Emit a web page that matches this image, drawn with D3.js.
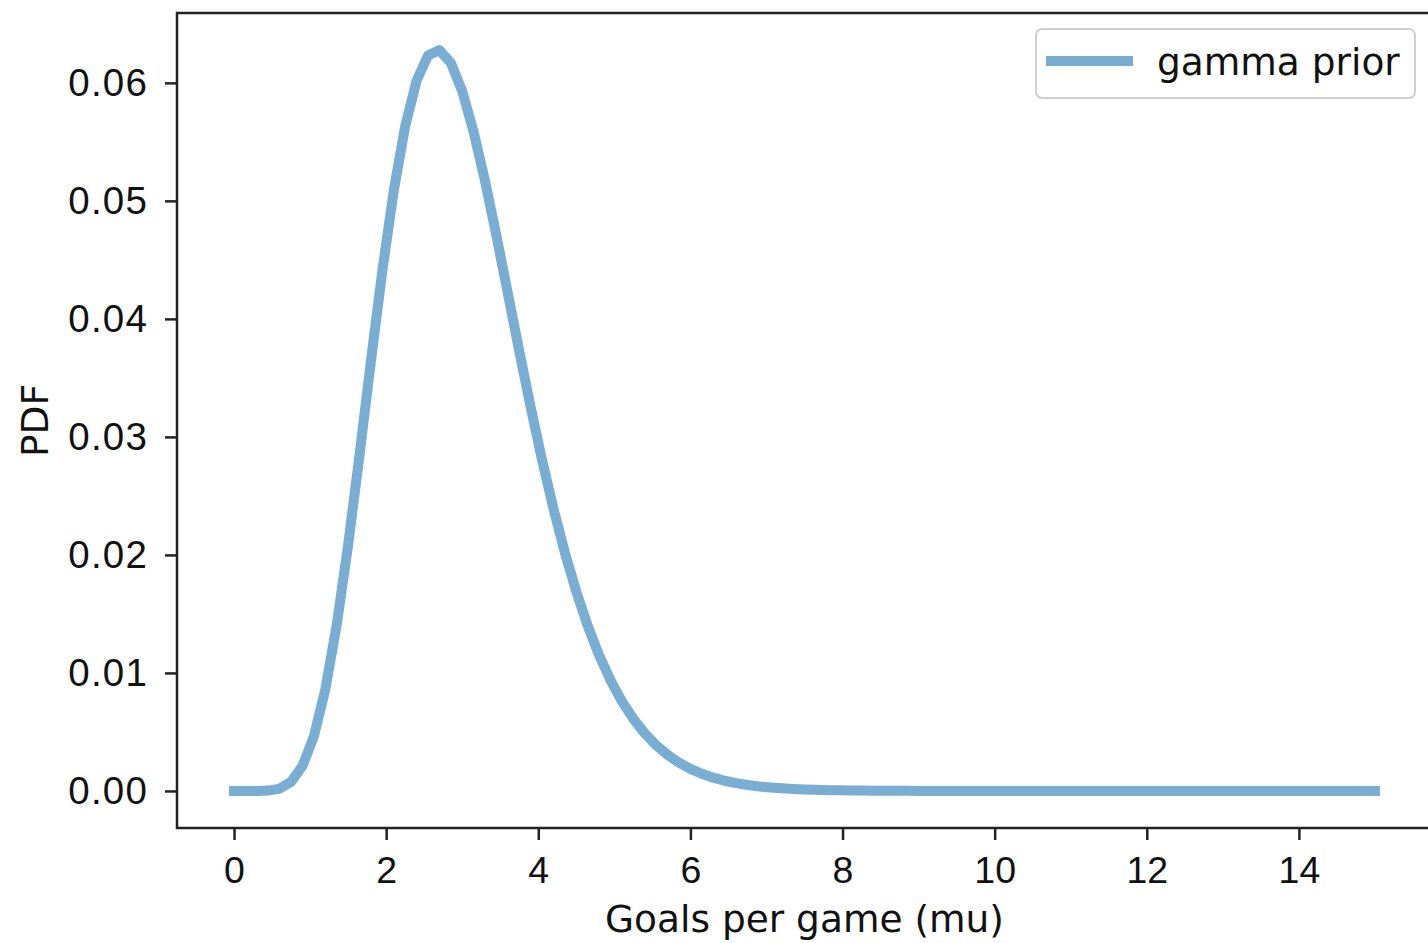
<!DOCTYPE html>
<html lang="en">
<head>
    <meta charset="UTF-8">
    <title>Gamma prior</title>
    <script src="https://d3js.org/d3.v7.min.js"></script>
    <style>
        body {
            margin: 0;
            background: #fff;
            font-family: "DejaVu Sans", sans-serif;
        }
        .axis text {
            font-size: 37.5px;
            fill: #111;
        }
        .y-axis text {
            font-size: 38.5px;
            letter-spacing: 1.2px;
        }
    </style>
</head>
<body>
    <svg width="1428" height="943"></svg>

    <script>
        // Goals per game (mu) sample points
        const mus = [
            0, 0.15, 0.3, 0.45, 0.6, 0.75, 0.9, 1.05, 1.2, 1.35,
            1.5, 1.65, 1.8, 1.95, 2.1, 2.25, 2.4, 2.55, 2.7, 2.85,
            3, 3.15, 3.3, 3.45, 3.6, 3.75, 3.9, 4.05, 4.2, 4.35,
            4.5, 4.65, 4.8, 4.95, 5.1, 5.25, 5.4, 5.55, 5.7, 5.85,
            6, 6.15, 6.3, 6.45, 6.6, 6.75, 6.9, 7.05, 7.2, 7.35,
            7.5, 7.65, 7.8, 7.95, 8.1, 8.25, 8.4, 8.55, 8.7, 8.85,
            9, 9.15, 9.3, 9.45, 9.6, 9.75, 9.9, 10.05, 10.2, 10.35,
            10.5, 10.65, 10.8, 10.95, 11.1, 11.25, 11.4, 11.55, 11.7, 11.85,
            12, 12.15, 12.3, 12.45, 12.6, 12.75, 12.9, 13.05, 13.2, 13.35,
            13.5, 13.65, 13.8, 13.95, 14.1, 14.25, 14.4, 14.55, 14.7, 14.85,
            15
        ];

        // gamma prior probabilities
        const priorPdf = [
            0, 0, 0.000002, 0.000032, 0.000203, 0.000772, 0.002119, 0.004635, 0.008603, 0.01407,
            0.02084, 0.02849, 0.03645, 0.04409, 0.05087, 0.05633, 0.06018, 0.06232, 0.06278, 0.06170,
            0.05929, 0.05585, 0.05168, 0.04702, 0.04215, 0.03725, 0.03251, 0.02803, 0.02391, 0.02018,
            0.01688, 0.01399, 0.01150, 0.00938, 0.00759, 0.00611, 0.00488, 0.00387, 0.00306, 0.00240,
            0.001873, 0.001455, 0.001125, 0.000866, 0.000664, 0.000506, 0.000385, 0.000292, 0.000220, 0.000166,
            0.000124, 0.000093, 0.000069, 0.000051, 0.000038, 0.000028, 0.000021, 0.000015, 0.000011, 0.000008,
            0.000006, 0, 0, 0, 0, 0, 0, 0, 0, 0,
            0, 0, 0, 0, 0, 0, 0, 0, 0, 0,
            0, 0, 0, 0, 0, 0, 0, 0, 0, 0,
            0, 0, 0, 0, 0, 0, 0, 0, 0, 0,
            0
        ];

        const xTicks = [0, 2, 4, 6, 8, 10, 12, 14];
        const yTicks = [0, 0.01, 0.02, 0.03, 0.04, 0.05, 0.06];
        const seriesName = "gamma prior";

        const data = mus.map((m, i) => ({ mu: m, p: priorPdf[i] }));

        const svg = d3.select("svg"),
              margin = {top: 13, left: 177},
              width = 1255,
              height = 815;

        const g = svg.append("g").attr("transform", `translate(${margin.left},${margin.top})`);

        // matplotlib-like 5% padding around the data
        const xPad = (d3.max(mus) - d3.min(mus)) * 0.05;
        const x = d3.scaleLinear()
            .domain([d3.min(mus) - xPad, d3.max(mus) + xPad])
            .range([0, width]);

        const yMax = d3.max(priorPdf);
        const y = d3.scaleLinear()
            .domain([-yMax * 0.05, yMax * 1.05])
            .range([height, 0]);

        const lineColor = "#79add2";

        // the curve
        g.append("path")
            .datum(data)
            .attr("fill", "none")
            .attr("stroke", lineColor)
            .attr("stroke-width", 10)
            .attr("stroke-linecap", "square")
            .attr("stroke-linejoin", "round")
            .attr("d", d3.line().x(d => x(d.mu)).y(d => y(d.p)));

        // axes
        const xAxis = g.append("g")
            .attr("class", "axis")
            .attr("transform", `translate(0,${height})`)
            .call(d3.axisBottom(x).tickValues(xTicks).tickSize(12).tickPadding(16).tickFormat(d3.format("d")));

        const yAxis = g.append("g")
            .attr("class", "axis y-axis")
            .call(d3.axisLeft(y).tickValues(yTicks).tickSize(12).tickPadding(17).tickFormat(d3.format(".2f")));

        [xAxis, yAxis].forEach(a => {
            a.select(".domain").remove();
            a.selectAll(".tick line").attr("stroke", "#222").attr("stroke-width", 2.5);
        });

        // box spines
        g.append("rect")
            .attr("x", 0).attr("y", 0)
            .attr("width", width).attr("height", height)
            .attr("fill", "none")
            .attr("stroke", "#222")
            .attr("stroke-width", 2.5);

        // axis labels
        svg.append("text")
            .attr("x", margin.left + width / 2)
            .attr("y", 932)
            .attr("text-anchor", "middle")
            .attr("font-size", 37.5)
            .attr("fill", "#111")
            .text("Goals per game (mu)");

        svg.append("text")
            .attr("transform", `translate(48,${margin.top + height / 2}) rotate(-90)`)
            .attr("text-anchor", "middle")
            .attr("font-size", 37.5)
            .attr("fill", "#111")
            .text("PDF");

        // legend
        const legend = svg.append("g").attr("transform", "translate(1036,29)");
        legend.append("rect")
            .attr("width", 379).attr("height", 69)
            .attr("rx", 6)
            .attr("fill", "#fff")
            .attr("stroke", "#d0d0d0")
            .attr("stroke-width", 2);
        legend.append("line")
            .attr("x1", 15).attr("x2", 92)
            .attr("y1", 32).attr("y2", 32)
            .attr("stroke", lineColor)
            .attr("stroke-width", 10)
            .attr("stroke-linecap", "square");
        legend.append("text")
            .attr("x", 121).attr("y", 46)
            .attr("font-size", 37.5)
            .attr("fill", "#111")
            .text(seriesName);
    </script>
</body>
</html>
